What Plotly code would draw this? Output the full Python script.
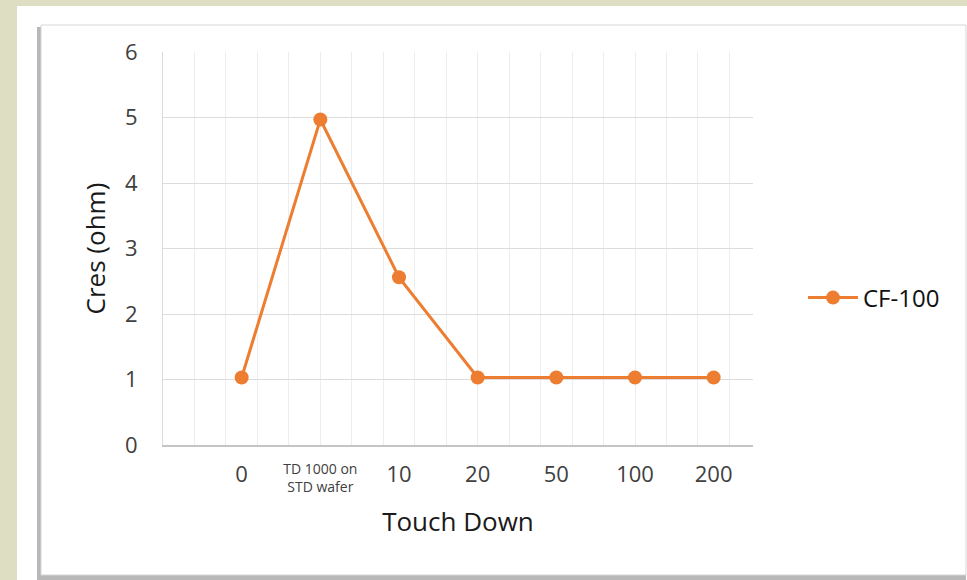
import plotly.graph_objects as go

# Contact resistance readings per touch-down stage
categories = ["0", "TD 1000 on<br>STD wafer", "10", "20", "50", "100", "200"]
positions = [1, 2, 3, 4, 5, 6, 7]
cres_cf100 = [1.03, 4.97, 2.56, 1.03, 1.03, 1.03, 1.03]
y_ticks = [0, 1, 2, 3, 4, 5, 6]

W, H = 967, 580
ML, MR, MT, MB = 163, 214, 52, 135
PW, PH = W - ML - MR, H - MT - MB


def px(x):
    return (x - ML) / PW


def py(y):
    return (H - MB - y) / PH


orange = "#ED7D31"
font_family = "Open Sans, Noto Sans, sans-serif"

# single-line labels go on the main axis, the wrapped one on a small-font overlay axis
main_vals = [p for p, c in zip(positions, categories) if "<br>" not in c]
main_text = [c for c in categories if "<br>" not in c]
wrap_vals = [p for p, c in zip(positions, categories) if "<br>" in c]
wrap_text = [c for c in categories if "<br>" in c]

fig = go.Figure()
fig.add_trace(go.Scatter(
    x=positions, y=cres_cf100, mode="lines+markers", name="CF-100",
    line=dict(color=orange, width=3),
    marker=dict(color=orange, size=14),
))
fig.add_trace(go.Scatter(x=[], y=[], xaxis="x2", showlegend=False, hoverinfo="skip"))

shapes = [
    # white page area
    dict(type="rect", xref="paper", yref="paper", layer="below",
         x0=px(17), x1=px(968), y0=py(581), y1=py(6),
         fillcolor="white", line=dict(width=0)),
    # card shadow
    dict(type="rect", xref="paper", yref="paper", layer="below",
         x0=px(37), x1=px(966), y0=py(580), y1=py(27),
         fillcolor="#b8b8b8", line=dict(width=0)),
    # card
    dict(type="rect", xref="paper", yref="paper", layer="below",
         x0=px(41), x1=px(966), y0=py(575), y1=py(25),
         fillcolor="white", line=dict(color="#d6d6d6", width=1)),
]

fig.update_layout(
    width=W, height=H,
    margin=dict(l=ML, r=MR, t=MT, b=MB, pad=0),
    paper_bgcolor="#DEDFC2",
    plot_bgcolor="rgba(0,0,0,0)",
    font=dict(family=font_family, color="#404040", size=19),
    shapes=shapes,
    showlegend=True,
    legend=dict(x=px(803), y=py(298), xanchor="left", yanchor="middle",
                bgcolor="rgba(0,0,0,0)", itemwidth=50,
                font=dict(size=24, color="#111111")),
    xaxis=dict(
        range=[0, 7.5], tickmode="array", tickvals=main_vals, ticktext=main_text,
        showgrid=False, zeroline=False,
        showline=True, linecolor="#c4c4c4", linewidth=1.5,
        ticks="", ticklabelstandoff=9,
        tickfont=dict(size=22, color="#404040"),
        minor=dict(tickmode="linear", tick0=0, dtick=0.4, showgrid=True,
                   gridcolor="#ededed", gridwidth=1),
        title=dict(text="Touch Down", standoff=26,
                   font=dict(size=26, color="#1a1a1a")),
    ),
    xaxis2=dict(
        range=[0, 7.5], overlaying="x", side="bottom", anchor="y",
        tickmode="array", tickvals=wrap_vals, ticktext=wrap_text,
        showgrid=False, zeroline=False, showline=False,
        ticks="", ticklabelstandoff=14,
        tickfont=dict(size=14, color="#404040"),
    ),
    yaxis=dict(
        range=[0, 6], tickvals=y_ticks, showgrid=True, gridcolor="#dcdcdc",
        gridwidth=1.2, zeroline=False, showline=True, linecolor="#dadada",
        ticks="", ticklabelstandoff=20,
        tickfont=dict(size=22, color="#404040"),
        title=dict(text="Cres (ohm)", standoff=11,
                   font=dict(size=26, color="#1a1a1a")),
    ),
)

fig.write_html("out.html")
